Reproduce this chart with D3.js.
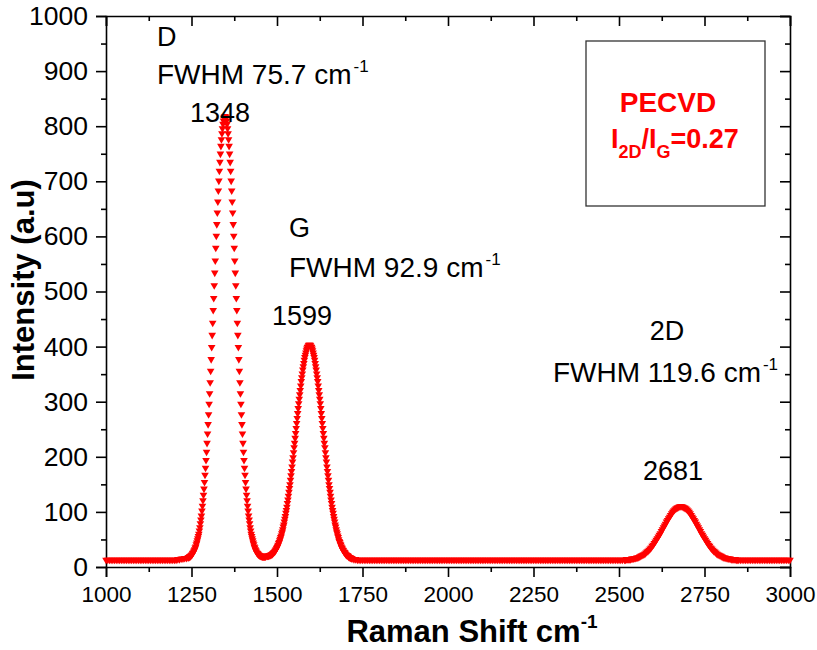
<!DOCTYPE html>
<html>
<head>
<meta charset="utf-8">
<script src="https://cdn.jsdelivr.net/npm/d3@7"></script>
<style>
  body { margin: 0; background: #fff; }
  svg { display: block; font-family: Arial, "Liberation Sans", sans-serif; }
  .axis path, .axis line { stroke: #000; stroke-width: 1.6; }
  .axis text { fill: #000; }
  .note { font-size: 27px; fill: #000; }
  .fwhm { font-size: 28px; fill: #000; }
  .title { font-size: 31px; font-weight: bold; fill: #000; }
</style>
</head>
<body>
<div id="chart"></div>
<script>
// Raman spectrum, one array per stretch of the curve
// each stretch starts at a shift (cm-1) and is sampled at a fixed step
const baseLeft = [
  13,13,13,13,13,13,13,13,13,13,13,13,13,13,13,13,13,13,13,13,
  13,13,13,13,13,13,13,13,13,13,13,13,13,13,13,13,13,13,13,13,
  13,13,14,14,15,15,16,16
];
const peakD = [
  17,18,18,19,19,20,21,22,23,25,26,28,30,32,35,37,41,44,48,52,
  56,60,66,72,79,86,93,102,111,121,131,142,154,167,180,194,209,225,242,259,
  277,296,315,335,356,377,399,421,443,466,488,511,534,556,579,601,622,643,663,683,
  701,719,735,750,764,776,787,796,804,810,815,817,
  818,
  817,815,810,804,796,787,776,764,750,735,719,701,683,663,643,622,601,579,556,534,
  511,488,466,443,421,399,377,356,335,315,296,277,259,242,225,209,194,180,167,154,
  142,131,121,111,102,93,86,79,72,66,60,56,52,48,44,41,37,35,32,30,
  28,26,25,24,23,22,21,21,20,20,20,19,
  19,19,19,19,19,19,19,20
];
const peakG = [
  20,20,20,20,21,21,21,22,22,23,23,24,25,26,27,28,29,31,32,34,
  36,38,40,43,45,48,51,54,57,61,64,68,73,77,82,87,92,98,103,109,
  116,122,129,136,143,150,158,166,174,182,191,199,208,217,225,234,243,252,261,270,
  279,288,297,305,313,321,329,337,344,351,358,364,370,376,381,385,389,393,396,399,
  400,402,403,
  403,
  403,402,400,399,396,393,389,385,381,376,370,364,358,351,344,337,329,321,313,305,
  297,288,279,270,261,252,243,234,225,217,208,199,191,182,174,166,158,150,143,136,
  129,122,116,109,103,98,92,87,82,77,73,68,64,61,57,54,50,47,45,42,
  40,37,35,33,31,30,28,27,26,24,23,22,21,21,20,19,18,18,17,17,
  16,16,15
];
const baseMid = [
  14,14,13,13,13,13,13,13,13,13,13,13,13,13,13,13,13,13,13,13,
  13,13,13,13,13,13,13,13,13,13,13,13,13,13,13,13,13,13,13,13,
  13,13,13,13,13,13,13,13,13,13,13,13,13,13,13,13,13,13,13,13,
  13,13,13,13,13,13,13,13,13,13,13,13,13,13,13,13,13,13,13,13,
  13,13,13,13,13,13,13,13,13,13,13,13,13,13,13,13,13,13,13,13,
  13,13,13,13,13,13,13,13,13,13,13,13,13,13,13,13,13,13,13,13,
  13,13,13,13,13,13,13,13,13,13,13,13,13,13,13,13,13,13,13,13,
  13,13,13,13,13,13,13,13,13,13,13,13,13,13,13,13,13,13
];
const peak2D = [
  13,13,14,14,14,14,14,15,15,15,16,16,17,17,18,19,20,21,22,23,
  24,26,28,29,31,33,35,38,40,43,46,49,52,55,58,61,65,68,72,75,
  78,82,85,88,91,94,97,100,102,104,106,107,108,109,110,110,
  110,109,108,107,106,104,102,100,97,94,91,88,85,82,78,75,72,68,65,61,
  58,55,52,49,46,43,40,38,35,33,31,29,28,26,24,23,22,21,20,19,
  18,17,17,16,16,15,15,15,14,14,14,14,14,13,13
];
const baseRight = [
  13,13,13,13,13,13,13,13,13,13,13,13,13,13,13,13,13,13,13,13,
  13,13,13,13,13,13,13,13,13,13,13
];

// where each stretch starts and how far apart its samples are
const segStarts = [1000, 1240, 1470.5, 1725, 2516, 2850];
const segSteps = [5, 1.5, 1.5, 5, 3, 5];
const segValues = [baseLeft, peakD, peakG, baseMid, peak2D, baseRight];

// peak annotations
const peakNames = ["D", "G", "2D"];
const peakCenters = ["1348", "1599", "2681"];
const peakFwhm = ["75.7", "92.9", "119.6"];
const sampleName = "PECVD";
const ratio2DG = "0.27";

const xTicks = [1000, 1250, 1500, 1750, 2000, 2250, 2500, 2750, 3000];
const yTicks = [0, 100, 200, 300, 400, 500, 600, 700, 800, 900, 1000];

const W = 817, H = 650;
const margin = { top: 16, right: 27, bottom: 83, left: 106 };
const width = W - margin.left - margin.right;
const height = H - margin.top - margin.bottom;

const svg = d3.select("#chart").append("svg")
  .attr("width", W)
  .attr("height", H);

const g = svg.append("g")
  .attr("transform", `translate(${margin.left},${margin.top})`);

const x = d3.scaleLinear().domain([1000, 3000]).range([0, width]);
const y = d3.scaleLinear().domain([0, 1000]).range([height, 0]);

const xMinor = d3.range(1125, 3000, 250);
const yMinor = d3.range(50, 1000, 100);

// flatten the stretches into points
const points = [];
segValues.forEach((vals, s) => {
  vals.forEach((v, i) => points.push({ x: segStarts[s] + i * segSteps[s], y: v }));
});

// Axes: labelled bottom/left, mirrored inward ticks top/right
function drawAxis(axis, transform, cls, fontSize) {
  const a = g.append("g").attr("class", "axis " + cls).attr("transform", transform).call(axis);
  a.selectAll("text").style("font-size", fontSize);
  return a;
}

drawAxis(d3.axisBottom(x).tickValues(xTicks).tickSize(10).tickPadding(9).tickFormat(d3.format("d")),
  `translate(0,${height})`, "x", "22.5px");
drawAxis(d3.axisBottom(x).tickValues(xMinor).tickSize(5).tickFormat(""),
  `translate(0,${height})`, "x-minor").select(".domain").remove();
drawAxis(d3.axisLeft(y).tickValues(yTicks).tickSize(10).tickPadding(8).tickFormat(d3.format("d")),
  "", "y", "26.5px");
drawAxis(d3.axisLeft(y).tickValues(yMinor).tickSize(5).tickFormat(""),
  "", "y-minor").select(".domain").remove();

// top and right frame
drawAxis(d3.axisBottom(x).tickValues(xTicks).tickSize(10).tickFormat(""), "", "top");
drawAxis(d3.axisBottom(x).tickValues(xMinor).tickSize(5).tickFormat(""), "", "top-minor").select(".domain").remove();
drawAxis(d3.axisLeft(y).tickValues(yTicks).tickSize(10).tickFormat(""), `translate(${width},0)`, "right");
drawAxis(d3.axisLeft(y).tickValues(yMinor).tickSize(5).tickFormat(""), `translate(${width},0)`, "right-minor").select(".domain").remove();
g.selectAll(".axis .domain").attr("fill", "none");

// Markers: downward red triangles
const tri = d3.symbol().type(d3.symbolTriangle).size(25);
g.append("g").selectAll("path")
  .data(points)
  .enter()
  .append("path")
  .attr("d", tri)
  .attr("fill", "#ff0000")
  .attr("transform", d => `translate(${x(d.x)},${y(d.y)}) rotate(180)`);

// Peak notes (name, FWHM, position)
const notePos = [
  { nx: 157, ny: 46, fx: 157, fy: 84, px: 220, py: 122 },
  { nx: 289, ny: 237, fx: 289, fy: 277, px: 302, py: 325 },
  { nx: 667, ny: 340, fx: 553, fy: 382, px: 673, py: 480, mid: true }
];
peakNames.forEach((name, i) => {
  const p = notePos[i];
  svg.append("text").attr("class", "note")
    .attr("x", p.nx).attr("y", p.ny)
    .attr("text-anchor", p.mid ? "middle" : "start")
    .text(name);
  const f = svg.append("text").attr("class", "fwhm").attr("x", p.fx).attr("y", p.fy);
  f.append("tspan").text(`FWHM ${peakFwhm[i]} cm`);
  f.append("tspan").attr("dx", 2).attr("dy", -12).style("font-size", "17px").text("-1");
  svg.append("text").attr("class", "note")
    .attr("x", p.px).attr("y", p.py)
    .attr("text-anchor", "middle")
    .text(peakCenters[i]);
});

// Box with sample name and intensity ratio
svg.append("rect")
  .attr("x", 586).attr("y", 41)
  .attr("width", 179).attr("height", 165)
  .attr("fill", "none")
  .attr("stroke", "#333")
  .attr("stroke-width", 1.3);

svg.append("text")
  .attr("x", 668).attr("y", 112)
  .attr("text-anchor", "middle")
  .style("font-size", "28px").style("font-weight", "bold").style("fill", "#ff0000")
  .text(sampleName);

const r = svg.append("text")
  .attr("x", 611).attr("y", 148)
  .style("font-size", "27px").style("font-weight", "bold").style("fill", "#ff0000");
r.append("tspan").text("I");
r.append("tspan").attr("dy", 10).style("font-size", "18px").text("2D");
r.append("tspan").attr("dy", -10).text("/I");
r.append("tspan").attr("dy", 10).style("font-size", "18px").text("G");
r.append("tspan").attr("dy", -10).text("=" + ratio2DG);

// Axis titles
const xt = svg.append("text").attr("class", "title")
  .attr("x", 472).attr("y", 642)
  .attr("text-anchor", "middle");
xt.append("tspan").text("Raman Shift cm");
xt.append("tspan").attr("dy", -14).style("font-size", "19px").text("-1");

svg.append("text").attr("class", "title")
  .attr("transform", "translate(34,280) rotate(-90)")
  .attr("text-anchor", "middle")
  .text("Intensity (a.u)");
</script>
</body>
</html>
